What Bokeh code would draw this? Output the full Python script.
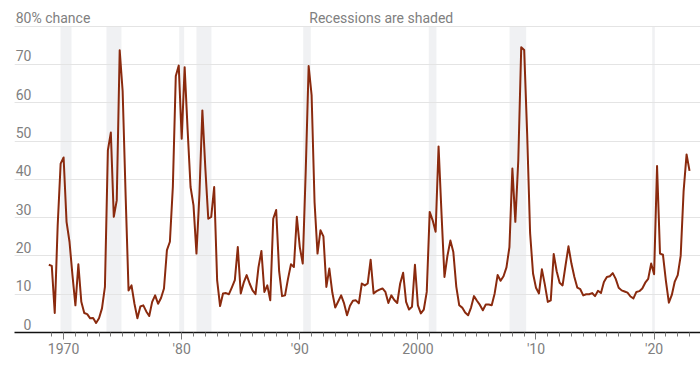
import pandas as pd
from bokeh.plotting import figure
from bokeh.models import FixedTicker, Grid, ColumnDataSource
from bokeh.core.properties import value
from bokeh.embed import file_html
from bokeh.resources import INLINE

# Quarterly recession probability (%), starting 1968 Q4
probability = [
    17.7, 17.4, 5.1, 28, 44.1, 45.7, 28.9, 23.7, 15, 7.1,
    17.8, 8, 5.1, 4.8, 3.7, 3.8, 2.5, 3.7, 6.3, 11.9,
    47.6, 52.2, 30.2, 34.5, 73.7, 63, 36, 11, 12.3, 7.5,
    3.7, 6.8, 7.1, 5.5, 4.3, 8, 9.7, 7.5, 9, 11.5,
    21.5, 23.7, 38, 67, 69.7, 50.6, 69.3, 53, 38, 33.2,
    20.6, 36, 58, 43, 29.7, 30.2, 38, 13.7, 6.9, 10.2,
    10.3, 10, 11.8, 13.7, 22.3, 10.2, 13, 15, 12.8, 11,
    10, 17, 21.3, 10.6, 12.3, 8.4, 29.7, 32, 16, 9.5,
    9.7, 14, 17.8, 17.1, 30.2, 22.3, 18, 42, 69.6, 62,
    34, 20.6, 26.7, 25.1, 11.9, 16.7, 10.5, 6.5, 8.1, 9.7,
    7.6, 4.5, 7, 8.3, 8.4, 7.6, 12.8, 12.3, 12.8, 19,
    10.2, 10.8, 11.2, 11.5, 10.6, 7.7, 9.7, 8.5, 7.7, 12.8,
    15.6, 8, 6, 6.7, 17.7, 7.1, 5, 6, 10.6, 31.5,
    29.3, 26.3, 48.6, 31, 14.5, 20, 24, 21, 12, 7.1,
    6.5, 5.2, 4.5, 6.5, 9.5, 8.3, 7.2, 5.8, 7.3, 7.3,
    7.1, 10.2, 15, 13.5, 14.7, 17, 22.3, 42.8, 28.9, 45,
    74.5, 73.8, 52, 26, 15.4, 11.7, 10.2, 16.5, 12.5, 8,
    8.4, 20.5, 16, 13, 12.3, 17.5, 22.5, 18, 14.5, 11.7,
    11.3, 9.7, 10, 10, 10.3, 9.5, 10.9, 10.3, 13.2, 14.5,
    14.7, 15.5, 14, 11.7, 11, 10.7, 10.4, 9.4, 8.9, 10.6,
    10.8, 11.5, 13, 14, 18, 15.2, 43.5, 20.6, 20.3, 13.5,
    7.8, 9.8, 13.3, 15, 20, 37, 46.5, 42.2,
]
first_quarter = "1968Q4"

# Recession periods (fractional years, as shaded)
recession_start = [1969.74, 1973.63, 1979.79, 1981.25, 1990.29, 2000.92, 2007.76, 2019.84]
recession_end = [1970.67, 1974.90, 1980.21, 1982.52, 1990.93, 2001.57, 2009.17, 2020.06]

# Axis ticks
x_major_ticks = [1970, 1980, 1990, 2000, 2010, 2020]
x_major_labels = ["1970", "'80", "'90", "2000", "'10", "'20"]
x_minor_ticks = list(range(1969, 2024))
y_ticks = [0, 10, 20, 30, 40, 50, 60, 70, 80]
y_labels = ["0", "10", "20", "30", "40", "50", "60", "70", "80"]

periods = pd.period_range(first_quarter, periods=len(probability), freq="Q")
xs = [p.year + (p.quarter - 1) / 4 for p in periods]

LINE = "#8a2a0e"
GRAY = "#808080"
FONT = "Roboto"

Y_END = 86.7
FRAME_H = 332
lift = 8.5 * Y_END / FRAME_H   # raise labels above their gridline

p = figure(width=700, height=366, x_range=(1965.843, 2023.929), y_range=(0, Y_END),
           output_backend="svg", toolbar_location=None, y_axis_location=None,
           min_border_left=14, min_border_right=0, min_border_top=0, min_border_bottom=366 - FRAME_H)
p.outline_line_color = None
p.xgrid.visible = False

# recessions
p.quad(left=recession_start, right=recession_end, bottom=0, top=80,
       fill_color="#f0f1f3", line_color=None, level="image")

grid = Grid(dimension=1, ticker=FixedTicker(ticks=y_ticks[1:]),
            grid_line_color="#e4e4e4", grid_line_width=1)
p.add_layout(grid)

src = ColumnDataSource(dict(x=xs, y=probability))
p.line("x", "y", source=src, line_color=LINE, line_width=2, line_join="round")

# y labels
label_x = 1967.28
label_y = [t + lift for t in y_ticks]
p.text(x=[label_x] * len(y_ticks), y=label_y, text=y_labels,
       text_font=value(FONT), text_font_size="14px", text_color=GRAY,
       text_align="right", text_baseline="alphabetic")
p.text(x=[label_x], y=[label_y[-1]], text=["% chance"],
       text_font=value(FONT), text_font_size="14px", text_color=GRAY,
       text_align="left", text_baseline="alphabetic")
p.text(x=[1996.9], y=[label_y[-1]], text=["Recessions are shaded"],
       text_font=value(FONT), text_font_size="14px", text_color=GRAY,
       text_align="center", text_baseline="alphabetic")

ax = p.xaxis[0]
ax.ticker = FixedTicker(ticks=x_major_ticks, minor_ticks=x_minor_ticks)
ax.major_label_overrides = {t: l for t, l in zip(x_major_ticks, x_major_labels)}
ax.axis_line_color = "#111111"
ax.axis_line_width = 1.5
ax.major_tick_out = 7
ax.major_tick_in = 0
ax.minor_tick_out = 4
ax.minor_tick_in = 0
ax.major_tick_line_color = "#777777"
ax.minor_tick_line_color = "#777777"
ax.major_label_standoff = 1
ax.major_label_text_font = FONT
ax.major_label_text_font_size = "14px"
ax.major_label_text_color = GRAY

open("out.html", "w").write(file_html(p, INLINE))
